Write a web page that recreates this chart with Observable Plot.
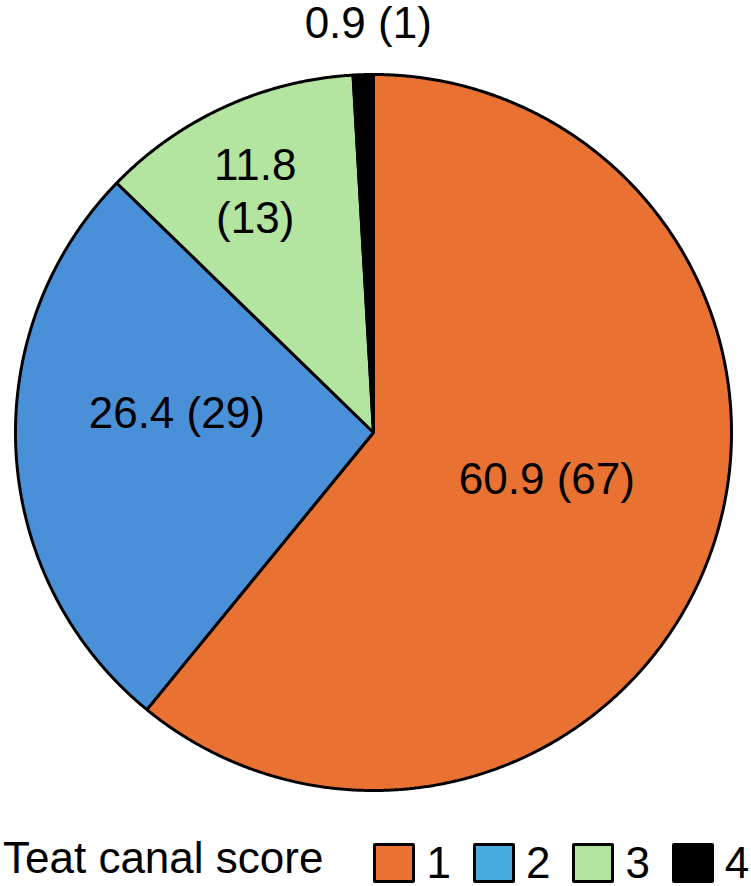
<!DOCTYPE html>
<html>
<head>
<meta charset="utf-8">
<script src="https://cdn.jsdelivr.net/npm/d3@7"></script>
<script src="https://cdn.jsdelivr.net/npm/@observablehq/plot@0.6"></script>
<style>
  html, body { margin: 0; padding: 0; background: #fff; }
  body { width: 751px; height: 886px; position: relative; overflow: hidden;
         font-family: "Liberation Sans", Arial, sans-serif; }
  #chart { position: absolute; left: 0; top: 0; }
  #legend { position: absolute; left: 3px; top: 836px; display: flex; align-items: flex-start;
            font-size: 44px; line-height: 1; color: #000; white-space: nowrap; }
  #legend .title { margin-right: 50px; }
  #legend .sw { width: 36px; height: 34px; border: 3px solid #000; border-radius: 2px; margin-top: 7px; }
  #legend .lab { margin-left: 11px; margin-right: 22px; position: relative; top: 5px; }
  #legend .lab.last { margin-right: 0; }
</style>
</head>
<body>
<div id="chart"></div>
<div id="legend"></div>
<script>
// ---- data ----
const scores = ["1", "2", "3", "4"];
const counts = [67, 29, 13, 1];
const percents = [60.9, 26.4, 11.8, 0.9];
const legendTitle = "Teat canal score";

// ---- styles / layout ----
const sliceColors = ["#E97132", "#4A90D9", "#B3E5A1", "#000000"];
const legendColors = ["#E97132", "#47ADE0", "#B3E5A1", "#000000"];
const labelRadius = [0.5, 0.553, 0.755, 1.15];
const labelAngleOffset = [-5.2, 9.6, -1.4, 0.9];
const labelBreak = [false, false, true, false];

const rows = scores.map((s, i) => ({score: s, count: counts[i], pct: percents[i], i}));
const arcs = d3.pie().sort(null).value(d => d.count).startAngle(0).endAngle(2 * Math.PI)(rows);

const points = [];
arcs.forEach(a => {
  points.push({score: a.data.score, u: 0, v: 0});
  const n = Math.max(2, Math.ceil((a.endAngle - a.startAngle) / (Math.PI / 720)));
  for (let k = 0; k <= n; k++) {
    const t = a.startAngle + (a.endAngle - a.startAngle) * k / n;
    points.push({score: a.data.score, u: Math.sin(t), v: Math.cos(t)});
  }
});

const labels = arcs.map(a => {
  const i = a.data.i;
  const mid = (a.startAngle + a.endAngle) / 2 + labelAngleOffset[i] * Math.PI / 180;
  const r = labelRadius[i];
  const text = labelBreak[i] ? `${a.data.pct.toFixed(1)}\n(${a.data.count})` : `${a.data.pct.toFixed(1)} (${a.data.count})`;
  return {u: r * Math.sin(mid), v: r * Math.cos(mid), text};
});

const chart = Plot.plot({
  width: 751,
  height: 830,
  margin: 0,
  style: {fontFamily: "'Liberation Sans', Arial, sans-serif", background: "white"},
  x: {domain: [-1, 1], range: [15, 731], axis: null},
  y: {domain: [-1, 1], range: [790, 74], axis: null},
  color: {domain: scores, range: sliceColors},
  marks: [
    Plot.line(points, {x: "u", y: "v", z: "score", fill: "score", stroke: "black", strokeWidth: 3, curve: "linear-closed", strokeLinejoin: "miter"}),
    Plot.text(labels, {x: "u", y: "v", text: "text", fontSize: 44, fill: "black", lineHeight: 1.2})
  ]
});
document.getElementById("chart").appendChild(chart);

const legend = document.getElementById("legend");
const t = document.createElement("span");
t.className = "title"; t.textContent = legendTitle;
legend.appendChild(t);
scores.forEach((s, i) => {
  const sw = document.createElement("span");
  sw.className = "sw"; sw.style.background = legendColors[i];
  const lab = document.createElement("span");
  lab.className = "lab" + (i === scores.length - 1 ? " last" : ""); lab.textContent = s;
  legend.appendChild(sw); legend.appendChild(lab);
});
</script>
</body>
</html>
